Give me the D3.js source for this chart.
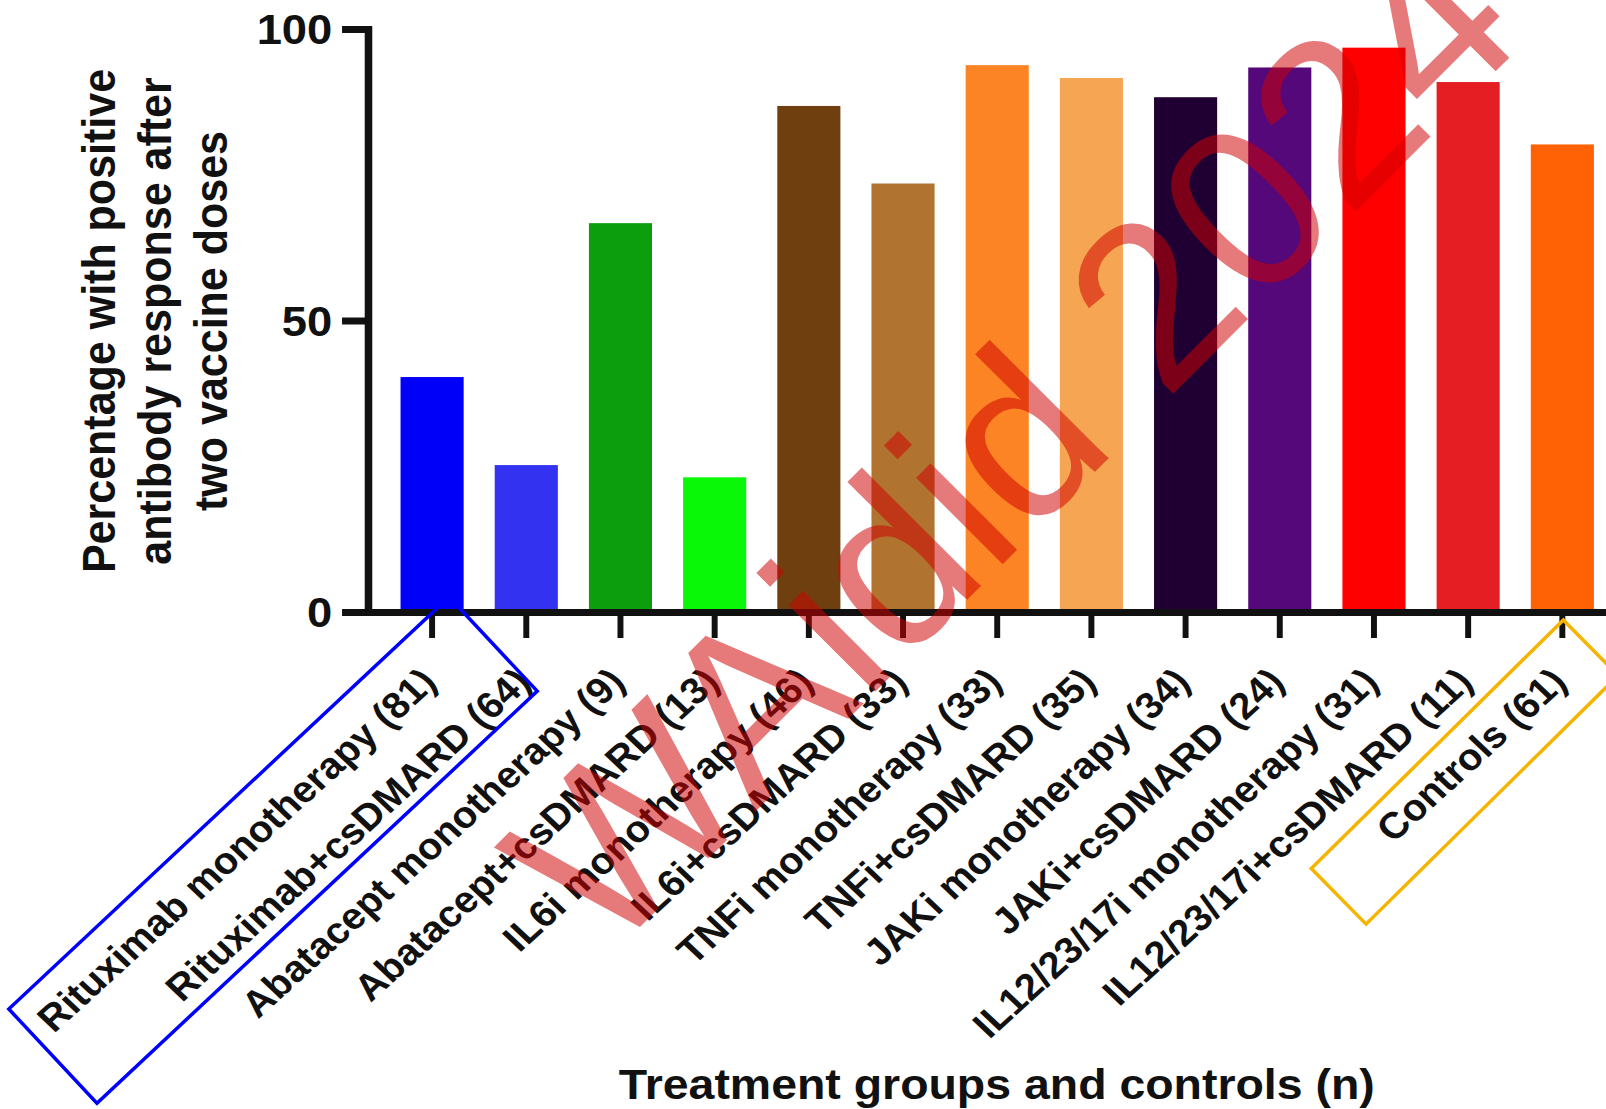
<!DOCTYPE html>
<html>
<head>
<meta charset="utf-8">
<script src="https://cdn.jsdelivr.net/npm/d3@7"></script>
<style>
  html, body { margin: 0; padding: 0; background: #ffffff; }
  svg { display: block; }
</style>
</head>
<body>
<div id="chart"></div>
<script>
// Treatment groups (n) shown along the x axis
const categories = [
  "Rituximab monotherapy (81)",
  "Rituximab+csDMARD (64)",
  "Abatacept monotherapy (9)",
  "Abatacept+csDMARD (13)",
  "IL6i monotherapy (46)",
  "IL6i+csDMARD (33)",
  "TNFi monotherapy (33)",
  "TNFi+csDMARD (35)",
  "JAKi monotherapy (34)",
  "JAKi+csDMARD (24)",
  "IL12/23/17i monotherapy (31)",
  "IL12/23/17i+csDMARD (11)",
  "Controls (61)"
];

// Percentage with a positive antibody response after two vaccine doses
const values = [40.3, 25.2, 66.7, 23.1, 86.8, 73.5, 93.8, 91.6, 88.3, 93.4, 96.8, 90.9, 80.2];

// Bar fill per group
const colors = [
  "#0000fa", "#3232f0", "#0c9e0c", "#08f808", "#6f3f0f", "#b07430", "#fc8424",
  "#f6a653", "#200032", "#54087a", "#ff0000", "#e41e22", "#ff6204"
];

const yTickValues = [0, 50, 100];
const yTitleLines = ["Percentage with positive", "antibody response after", "two vaccine doses"];
const xTitle = "Treatment groups and controls (n)";
const watermark = "WAidid 2024";

const W = 1606, H = 1109;
const SX = 1.08;               // horizontal stretch of the plot drawing
const FONT = "'Liberation Sans', Arial, Helvetica, sans-serif";
const INK = "#111111";

const svg = d3.select("#chart").append("svg")
  .attr("width", W).attr("height", H)
  .attr("viewBox", `0 0 ${W} ${H}`);

svg.append("rect").attr("width", W).attr("height", H).attr("fill", "#ffffff");

const g = svg.append("g").attr("transform", `scale(${SX},1)`);

const y0 = 612, yTop = 29, xLeft = 340.7, xRight = 1506;

const x = d3.scaleBand()
  .domain(categories)
  .range([xLeft, xRight])
  .paddingInner(0.33)
  .paddingOuter(0.346);

const y = d3.scaleLinear().domain([0, 100]).range([y0, yTop]);

// bars
g.append("g").selectAll("rect")
  .data(categories)
  .join("rect")
  .attr("x", d => x(d))
  .attr("width", x.bandwidth())
  .attr("y", (d, i) => y(values[i]))
  .attr("height", (d, i) => y(0) - y(values[i]))
  .attr("fill", (d, i) => colors[i]);

// y axis
const yAxis = g.append("g")
  .attr("transform", `translate(${xLeft},0)`)
  .call(d3.axisLeft(y).tickValues(yTickValues).tickSize(24).tickSizeOuter(0).tickPadding(9));
yAxis.select(".domain").attr("stroke", INK).attr("stroke-width", 7).attr("stroke-linecap", "square");
yAxis.selectAll(".tick line").attr("stroke", INK).attr("stroke-width", 7);
yAxis.selectAll(".tick text")
  .attr("font-family", FONT).attr("font-weight", "bold").attr("font-size", 42)
  .attr("fill", INK).attr("dy", "0.35em");

// x axis
const xAxis = g.append("g")
  .attr("transform", `translate(0,${y0})`)
  .call(d3.axisBottom(x).tickSize(26).tickSizeOuter(0).tickFormat(""));
xAxis.select(".domain").attr("stroke", INK).attr("stroke-width", 7);
xAxis.selectAll(".tick line").attr("stroke", INK).attr("stroke-width", 5.5);
xAxis.selectAll(".tick text").remove();

// rotated category labels
g.append("g").selectAll("text")
  .data(categories)
  .join("text")
  .attr("transform", d => `translate(${x(d) + x.bandwidth() / 2 + 6},684) rotate(-44.5)`)
  .attr("text-anchor", "end")
  .attr("font-family", FONT).attr("font-weight", "bold").attr("font-size", 37)
  .attr("fill", INK)
  .text(d => d);

// y axis title
const yt = g.append("text")
  .attr("transform", "translate(0,321) rotate(-90)")
  .attr("text-anchor", "middle")
  .attr("font-family", FONT).attr("font-weight", "bold").attr("font-size", 43)
  .attr("fill", INK);
yt.selectAll("tspan").data(yTitleLines).join("tspan")
  .attr("x", 0)
  .attr("y", (d, i) => 106.5 + i * 52)
  .text(d => d);

// x axis title
g.append("text")
  .attr("x", 923).attr("y", 1099)
  .attr("text-anchor", "middle")
  .attr("font-family", FONT).attr("font-weight", "bold").attr("font-size", 43)
  .attr("fill", INK)
  .text(xTitle);

// watermark across the plot
svg.append("text")
  .attr("transform", "translate(606,961) rotate(-45)")
  .attr("font-family", FONT).attr("font-size", 232)
  .attr("fill", "#d00000").attr("fill-opacity", 0.52)
  .text(watermark);

// highlight boxes around label groups (screen coordinates)
function box(cat, dx, dy, len, hgt, angle, color) {
  const tx = (x(cat) + x.bandwidth() / 2) * SX + dx;
  const ty = y0 + dy;
  const a = angle * Math.PI / 180;
  const lx = tx - len * Math.cos(a);
  const ly = ty + len * Math.sin(a);
  svg.append("rect")
    .attr("transform", `translate(${lx},${ly}) rotate(${-angle})`)
    .attr("x", 0).attr("y", 0)
    .attr("width", len).attr("height", hgt)
    .attr("fill", "none").attr("stroke", color).attr("stroke-width", 3.5);
}
box(categories[0], 17, -15, 603, 129, 43.1, "#0000ff");
box(categories[12], 1, 8, 354, 78, 44.6, "#f5b400");
</script>
</body>
</html>
